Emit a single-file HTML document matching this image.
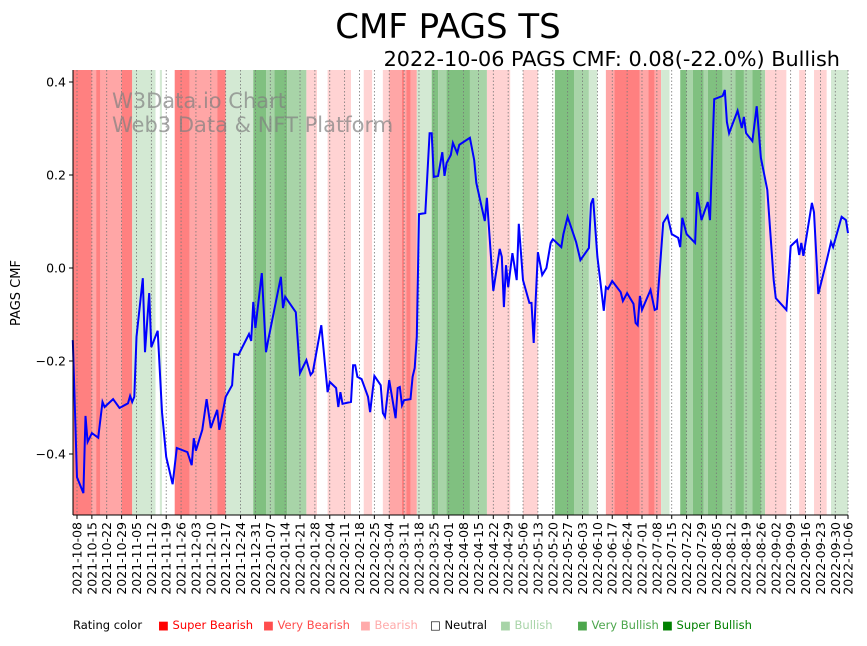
<!DOCTYPE html>
<html><head><meta charset="utf-8">
<style>
body{margin:0;background:#fff;font-family:"Liberation Sans","DejaVu Sans",sans-serif;}
svg text{font-family:"DejaVu Sans","Liberation Sans",sans-serif;}
</style></head>
<body>
<svg id="chart" width="867" height="641" xmlns="http://www.w3.org/2000/svg">
<text x="448" y="38" font-size="34" text-anchor="middle">CMF PAGS TS</text>
<text x="840" y="66" font-size="20.8" text-anchor="end">2022-10-06 PAGS CMF: 0.08(-22.0%) Bullish</text>
<g id="bands"></g>
<g id="grid"></g>
<text x="112" y="108" font-size="21" fill="#808080" fill-opacity="0.7">W3Data.io Chart</text>
<text x="112" y="132" font-size="21" fill="#808080" fill-opacity="0.7">Web3 Data &amp; NFT Platform</text>
<path id="line" fill="none" stroke="#0000ff" stroke-width="2"/>
<g id="axes"></g>
<text transform="translate(20,293) rotate(-90)" font-size="13" text-anchor="middle">PAGS CMF</text>
<g id="legend" font-size="11.5"></g>
</svg>
<script>
const bandStarts=[-2,7,9,11,21,26,37,39,40,46,53,66,70,83,89,93,99,108,113,118,129,135,139,144,147,153,154,155,157,160,167,170,174,185,193,204,210,217,225,234,241,245,249,253,265,269,272,275,279,284,287,290,295,297,304,310,314,318,322,324,334,340,343,347,353,355];
const bandRatings=[-3,-2,-3,-2,-3,1,0,1,0,-3,-2,-3,1,3,2,3,2,-1,0,-1,0,-1,0,-1,-2,-3,-2,-3,-2,1,3,2,3,2,-1,0,-1,0,3,2,1,0,-2,-3,-2,-3,-2,1,0,3,2,3,2,3,2,3,2,3,2,-1,0,-1,0,-1,0,1];
const seriesDays=[-2,0,3,4,5,7,10,12,13,17,20,24,25,26,27,28,31,32,34,35,38,40,42,45,47,52,54,55,56,59,61,63,66,67,68,70,73,74,76,81,82,83,84,87,89,90,96,97,98,103,105,108,110,111,115,118,119,122,123,124,125,129,130,131,132,134,137,138,140,143,144,145,147,150,151,152,153,154,157,158,159,160,161,164,166,167,168,170,172,173,174,176,177,179,180,185,187,188,192,193,196,199,200,201,202,203,205,207,208,210,213,214,215,217,219,221,223,224,228,229,231,235,237,241,242,243,245,248,249,250,252,256,257,259,262,263,264,265,266,270,272,273,276,278,280,283,284,285,287,291,292,294,297,298,300,304,305,306,307,311,313,314,315,318,320,322,325,328,329,334,336,339,340,341,342,346,347,349,353,355,356,360,362,363];
const seriesValues=[-0.155,-0.45,-0.484,-0.318,-0.374,-0.355,-0.365,-0.288,-0.299,-0.282,-0.301,-0.291,-0.275,-0.288,-0.277,-0.148,-0.022,-0.181,-0.054,-0.17,-0.135,-0.31,-0.406,-0.465,-0.387,-0.396,-0.424,-0.366,-0.393,-0.348,-0.282,-0.344,-0.305,-0.348,-0.325,-0.277,-0.252,-0.185,-0.187,-0.142,-0.157,-0.073,-0.129,-0.011,-0.181,-0.155,-0.019,-0.086,-0.062,-0.095,-0.226,-0.198,-0.23,-0.224,-0.123,-0.267,-0.245,-0.258,-0.299,-0.267,-0.292,-0.288,-0.209,-0.209,-0.234,-0.239,-0.277,-0.31,-0.232,-0.252,-0.312,-0.32,-0.241,-0.323,-0.258,-0.256,-0.295,-0.284,-0.282,-0.234,-0.215,-0.148,0.116,0.118,0.29,0.29,0.196,0.198,0.249,0.198,0.226,0.243,0.269,0.247,0.265,0.28,0.232,0.183,0.101,0.151,-0.049,0.041,0.024,-0.084,0.006,-0.041,0.032,-0.026,0.095,-0.026,-0.075,-0.075,-0.161,0.034,-0.015,0,0.054,0.062,0.045,0.073,0.11,0.056,0.017,0.043,0.138,0.15,0.024,-0.092,-0.041,-0.045,-0.028,-0.052,-0.071,-0.054,-0.077,-0.118,-0.123,-0.06,-0.09,-0.047,-0.09,-0.088,0.097,0.112,0.073,0.065,0.045,0.108,0.073,0.054,0.163,0.103,0.142,0.103,0.363,0.37,0.383,0.314,0.29,0.338,0.301,0.325,0.29,0.273,0.348,0.237,0.168,-0.026,-0.065,-0.09,0.047,0.06,0.028,0.054,0.026,0.14,0.12,-0.056,0.017,0.056,0.045,0.11,0.103,0.075];
const yTicks=[-0.4,-0.2,0.0,0.2,0.4];
const yTickLabels=["−0.4","−0.2","0.0","0.2","0.4"];
const legendLabels=["Super Bearish","Very Bearish","Bearish","Neutral","Bullish","Very Bullish","Super Bullish"];

const NS="http://www.w3.org/2000/svg";
const X0=73,X1=848,Y0=70,Y1=515;
const startDay=-2,endDay=363;
function xs(d){return 77+d*2.124;}
function ys(v){return 268-v*465;}
const bandColor={"-3":"#ff8080","-2":"#ffa6a6","-1":"#ffd3d3","0":"#ffffff","1":"#d3e9d3","2":"#a8d4a8","3":"#80c080"};
function mk(tag,attrs,parent){const e=document.createElementNS(NS,tag);for(const k in attrs)e.setAttribute(k,attrs[k]);parent.appendChild(e);return e;}

const gB=document.getElementById('bands');
for(let i=0;i<bandStarts.length;i++){
  const s=xs(bandStarts[i]);const e=xs(i+1<bandStarts.length?bandStarts[i+1]:endDay);
  const r=mk('rect',{x:s,y:Y0,width:Math.max(0,e-s),height:Y1-Y0,fill:bandColor[bandRatings[i]]},gB);
  
  
}
const base=new Date(Date.UTC(2021,9,8));
function fmt(d){const t=new Date(base.getTime()+d*86400000);return t.toISOString().slice(0,10);}
const tickDays=[];for(let d=0;d<=357;d+=7)tickDays.push(d);tickDays.push(363);
const gG=document.getElementById('grid');const gA=document.getElementById('axes');
tickDays.forEach(d=>{
  const x=xs(d);
  const l=mk('line',{x1:x,x2:x,y1:Y0,y2:Y1,stroke:"#777","stroke-width":0.8,"stroke-dasharray":"1.5,2"},gG);
  
  
  mk('line',{x1:x,x2:x,y1:Y1,y2:Y1+4,stroke:"#000","stroke-width":1},gA);
  const t=mk('text',{transform:`translate(${x+4.5},${Y1+7}) rotate(-90)`,"font-size":12.5,"text-anchor":"end"},gA);
  
  
  t.textContent=fmt(d);
});
yTicks.forEach((v,i)=>{
  const y=ys(v);
  mk('line',{x1:X0-4,x2:X0,y1:y,y2:y,stroke:"#000"},gA);
  const t=mk('text',{x:X0-7,y:y+4.5,"font-size":12.5,"text-anchor":"end"},gA);
  
  
  t.textContent=yTickLabels[i];
});
mk('line',{x1:X0,x2:X0,y1:Y0,y2:Y1,stroke:"#000"},gA);
mk('line',{x1:X0,x2:X1,y1:Y1,y2:Y1,stroke:"#000"},gA);
let p="";seriesDays.forEach((d,i)=>{p+=(i?"L":"M")+xs(d).toFixed(1)+","+ys(seriesValues[i]).toFixed(1);});
document.getElementById('line').setAttribute('d',p);

const gL=document.getElementById('legend');
const lt=mk('text',{x:73,y:629},gL);lt.textContent="Rating color";


const legX=[158,263,360,430,500,577,662];
const legC=["#ff0000","#ff4d4d","#ffaaaa","#000","#a8d4a8","#4ca64c","#008000"];
legendLabels.forEach((s,i)=>{
  const t=mk('text',{x:legX[i],y:629,fill:legC[i]},gL);
  
  
  t.textContent=(i==3?"□ ":"■ ")+s;
});
</script>
</body></html>
